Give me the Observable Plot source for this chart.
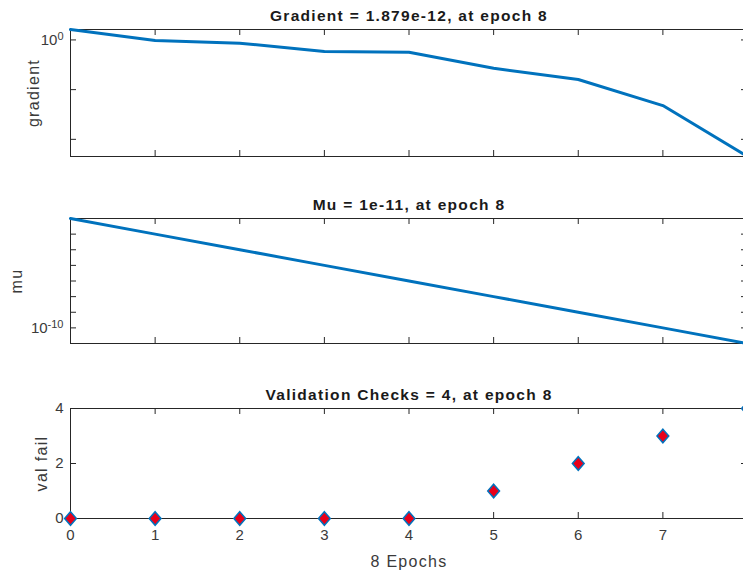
<!DOCTYPE html>
<html><head><meta charset="utf-8">
<script src="https://cdn.jsdelivr.net/npm/d3@7"></script>
<script src="https://cdn.jsdelivr.net/npm/@observablehq/plot@0.6"></script>
<style>
html,body{margin:0;padding:0;background:#fff;overflow:hidden;}
#chart{position:relative;width:743px;height:574px;overflow:hidden;background:#fff;}
</style></head><body><div id="chart"></div>
<script>
// ---- data ----
const epochs = [0, 1, 2, 3, 4, 5, 6, 7, 8];
const gradient = [11.2, 0.87, 0.47, 0.068, 0.058, 0.0014, 1.04e-4, 2.5e-7, 1.879e-12];
const mu = [1e-3, 1e-4, 1e-5, 1e-6, 1e-7, 1e-8, 1e-9, 1e-10, 1e-11];
const valFail = [0, 0, 0, 0, 0, 1, 2, 3, 4];
const titles = ["Gradient = 1.879e-12, at epoch 8", "Mu = 1e-11, at epoch 8", "Validation Checks = 4, at epoch 8"];
const yLabels = ["gradient", "mu", "val fail"];
const xLabel = "8 Epochs";
const gradientTicks = [1, 1e-5, 1e-10];
const gradientTickLabels = ["10^0", "", ""];
const muTicks = [1e-4, 1e-5, 1e-6, 1e-7, 1e-8, 1e-9, 1e-10];
const muTickLabels = ["", "", "", "", "", "", "10^-10"];
const valTicks = [0, 2, 4];
const valTickLabels = ["0", "2", "4"];
const xTickLabels = ["0", "1", "2", "3", "4", "5", "6", "7", "8"];

// ---- style ----
const W = 800, ML = 70, MR = 53, IW = W - ML - MR, TL = 6;
const AX = "#262626", BLUE = "#0072BD", RED = "#e8001a", TXT = "#3a3a3a";
const svgNS = "http://www.w3.org/2000/svg";
const chart = document.getElementById("chart");

function panel({top, mt, ih, mb, y, yTicks, yTickLabels, title, ylabel, ylabelDx, extra, xAxis}) {
  const lab = new Map(yTicks.map((t, i) => [t, yTickLabels[i]]));
  const marks = [
    Plot.frame({stroke: AX, strokeWidth: 1}),
    Plot.tickX(epochs, {x: d => d, stroke: AX, insetBottom: ih - TL}),
    Plot.tickX(epochs, {x: d => d, stroke: AX, insetTop: ih - TL}),
    Plot.tickY(yTicks, {y: d => d, stroke: AX, insetRight: IW - TL}),
    Plot.tickY(yTicks, {y: d => d, stroke: AX, insetLeft: IW - TL}),
    Plot.axisY(yTicks, {tickSize: 0, tickPadding: 7, tickFormat: d => lab.get(d) ?? "", label: null}),
    Plot.text([title], {text: d => d, frameAnchor: "top", lineAnchor: "middle", textAnchor: "middle", dy: -13.5, fontWeight: "bold", fontSize: 15.5, fill: "#1a1a1a"}),
    Plot.text([ylabel], {text: d => d, frameAnchor: "left", lineAnchor: "middle", textAnchor: "middle", rotate: -90, dx: ylabelDx, fontSize: 16, fill: TXT}),
    ...extra
  ];
  if (xAxis) {
    marks.push(Plot.axisX(epochs, {tickSize: 0, tickPadding: 11, tickFormat: d => xTickLabels[d], label: null}));
    marks.push(Plot.text([xLabel], {text: d => d, frameAnchor: "bottom", lineAnchor: "middle", textAnchor: "middle", dy: 43.5, fontSize: 16, fill: TXT}));
  }
  const svg = Plot.plot({
    width: W, height: mt + ih + mb,
    marginLeft: ML, marginRight: MR, marginTop: mt, marginBottom: mb,
    x: {domain: [0, 8], axis: xAxis ? undefined : null},
    y,
    style: {fontFamily: "'Liberation Sans', Arial, sans-serif", fontSize: "15px", maxWidth: "none",
            background: "transparent", position: "absolute", left: "0px", top: top + "px", color: TXT, overflow: "visible"},
    marks
  });
  // superscripts for log tick labels
  svg.querySelectorAll("text").forEach(t => {
    if (t.textContent.includes("^")) {
      const [b, e] = t.textContent.split("^");
      t.textContent = b;
      const ts = document.createElementNS(svgNS, "tspan");
      ts.setAttribute("dy", "-0.45em");
      ts.setAttribute("font-size", "11");
      ts.textContent = e;
      t.appendChild(ts);
    }
  });
  svg.querySelectorAll('g[aria-label="text"] text').forEach(t => t.style.letterSpacing = "1.3px");
  chart.appendChild(svg);
}

panel({top: 0, mt: 29, ih: 127, mb: 12,
  y: {type: "log", domain: [1.879e-12, 11.2]},
  yTicks: gradientTicks, yTickLabels: gradientTickLabels,
  title: titles[0], ylabel: yLabels[0], ylabelDx: -37,
  extra: [Plot.line(epochs, {x: d => d, y: gradient, stroke: BLUE, strokeWidth: 3})]
});

panel({top: 175, mt: 43, ih: 125, mb: 10,
  y: {type: "log", domain: [1e-11, 1e-3]},
  yTicks: muTicks, yTickLabels: muTickLabels,
  title: titles[1], ylabel: yLabels[1], ylabelDx: -53.5,
  extra: [Plot.line(epochs, {x: d => d, y: mu, stroke: BLUE, strokeWidth: 3})]
});

const diamond = {
  draw(ctx, size) {
    const r = Math.sqrt(size / Math.PI);
    const h = r * 1.1, w = r * 0.95;
    ctx.moveTo(0, -h); ctx.lineTo(w, 0); ctx.lineTo(0, h); ctx.lineTo(-w, 0); ctx.closePath();
  }
};

panel({top: 360, mt: 48, ih: 110, mb: 56,
  y: {domain: [0, 4]},
  yTicks: valTicks, yTickLabels: valTickLabels,
  title: titles[2], ylabel: yLabels[2], ylabelDx: -28.5, xAxis: true,
  extra: [Plot.dot(epochs, {x: d => d, y: valFail, symbol: diamond, r: 6.2, fill: RED, stroke: BLUE, strokeWidth: 1.5})]
});
</script></body></html>
